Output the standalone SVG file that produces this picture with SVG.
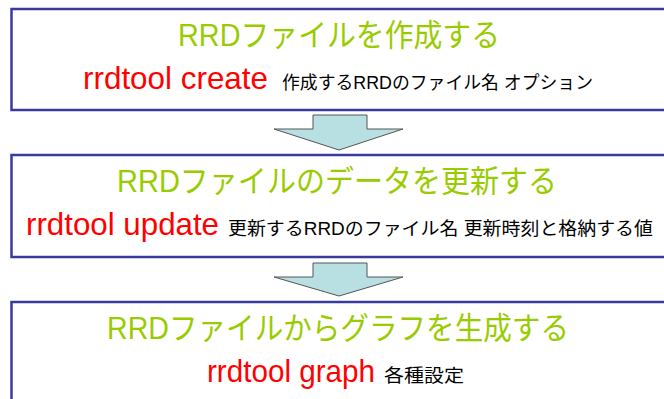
<svg xmlns="http://www.w3.org/2000/svg" width="664" height="399" viewBox="0 0 664 399">
<style>
.box{fill:#ffffff;stroke:#3a3a9e;stroke-width:2.5}
.title{font-family:"Liberation Sans","Noto Sans CJK JP",sans-serif;font-size:31px;fill:#99cc00}
.cmd{font-family:"Liberation Sans","Noto Sans CJK JP",sans-serif;font-size:32px;fill:#ff0000}
.arg{font-family:"Liberation Sans","Noto Sans CJK JP",sans-serif;font-size:18px;fill:#000000}
.arrow{fill:#b8dfe2;stroke:#555555;stroke-width:1}
</style>
<rect width="664" height="399" fill="#ffffff"/>
<g id="connectors">
<polygon class="arrow" points="313,115 367,115 367,129 403,129 339,150 274,129 313,129"/>
<polygon class="arrow" points="313,263 367,263 367,277 403,277 339,296 274,277 313,277"/>
</g>
<g id="node-create">
<rect class="box" x="11.5" y="9" width="680" height="101"/>
<text class="title" x="178" y="46" textLength="322" lengthAdjust="spacingAndGlyphs">RRDファイルを作成する</text>
<text class="cmd" x="83" y="89" textLength="185" lengthAdjust="spacingAndGlyphs">rrdtool create</text>
<text class="arg" x="282" y="89" textLength="311" lengthAdjust="spacingAndGlyphs">作成するRRDのファイル名 オプション</text>
</g>
<g id="node-update">
<rect class="box" x="11.5" y="155" width="680" height="102"/>
<text class="title" x="117" y="192" textLength="440" lengthAdjust="spacingAndGlyphs">RRDファイルのデータを更新する</text>
<text class="cmd" x="26" y="235" textLength="193" lengthAdjust="spacingAndGlyphs">rrdtool update</text>
<text class="arg" x="228" y="235" textLength="425" lengthAdjust="spacingAndGlyphs">更新するRRDのファイル名 更新時刻と格納する値</text>
</g>
<g id="node-graph">
<rect class="box" x="11.5" y="302" width="680" height="120"/>
<text class="title" x="107" y="339" textLength="462" lengthAdjust="spacingAndGlyphs">RRDファイルからグラフを生成する</text>
<text class="cmd" x="207" y="382" textLength="168" lengthAdjust="spacingAndGlyphs">rrdtool graph</text>
<text class="arg" x="384" y="382" textLength="80" lengthAdjust="spacingAndGlyphs">各種設定</text>
</g>
</svg>
